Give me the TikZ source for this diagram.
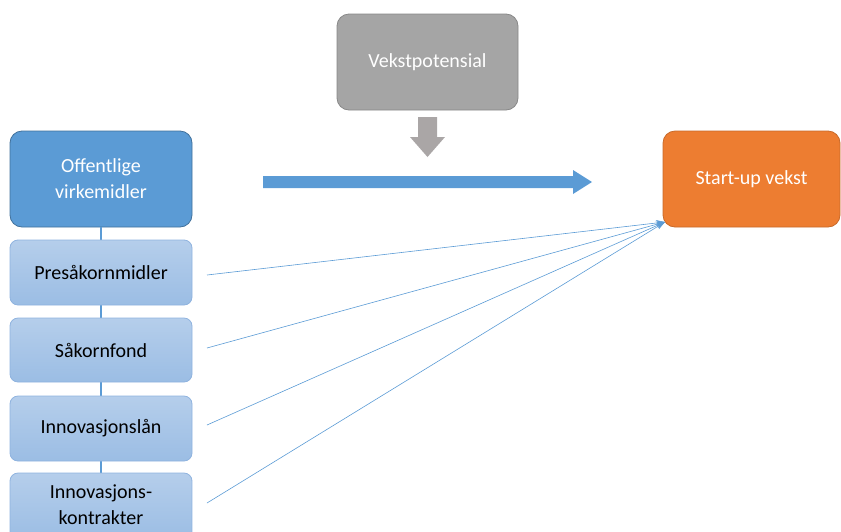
\documentclass[tikz,border=0pt]{standalone}
\usepackage{fontspec}
\setmainfont{Carlito}
\usetikzlibrary{arrows.meta,shapes.arrows}
\definecolor{dblue}{HTML}{5B9BD5}
\definecolor{dblueb}{HTML}{41719C}
\definecolor{lbtop}{HTML}{B5CEEB}
\definecolor{lbbot}{HTML}{9BBDE4}
\definecolor{lbb}{HTML}{8FB3DF}
\definecolor{grayf}{HTML}{A5A5A5}
\definecolor{grayb}{HTML}{888888}
\definecolor{orangef}{HTML}{ED7D31}
\definecolor{orangeb}{HTML}{C86A2A}
\definecolor{arrgray}{HTML}{AAA6A6}
\begin{document}
\begin{tikzpicture}[x=1pt,y=-1pt,
  lbl/.style={font=\fontsize{20}{26}\selectfont,align=center},
  mainbox/.style={rounded corners=12pt,line width=0.8pt},
  subbox/.style={rounded corners=8pt,draw=lbb,line width=0.8pt,top color=lbtop,bottom color=lbbot},
  link/.style={draw=dblue,line width=2pt},
  thin/.style={draw=dblue,line width=0.6pt,-{Stealth[length=9pt,width=6pt]}}]
\useasboundingbox (0,0) rectangle (841,531);
% main boxes
\draw[mainbox,fill=dblue,draw=dblueb] (10,131) rectangle (192,227);
\node[lbl,text=white] (off) at (101,179) {Offentlige\\virkemidler};
\coordinate (offS) at (101,227);
\draw[mainbox,fill=grayf,draw=grayb] (337,14) rectangle (518,110);
\node[lbl,text=white] (vek) at (427.5,62) {Vekstpotensial};
\draw[mainbox,fill=orangef,draw=orangeb] (663,131) rectangle (840,227);
\node[lbl,text=white] (start) at (751.5,179) {Start-up vekst};
\coordinate (tgt) at (665,222);
% vertical links (drawn first, under boxes)
\coordinate (pT) at (101,240); \coordinate (pB) at (101,305);
\coordinate (sT) at (101,318); \coordinate (sB) at (101,382);
\coordinate (iT) at (101,396); \coordinate (iB) at (101,461);
\coordinate (kT) at (101,473);
\draw[link] (offS) -- (pT);
\draw[link] (pB) -- (sT);
\draw[link] (sB) -- (iT);
\draw[link] (iB) -- (kT);
% sub boxes
\draw[subbox] (10,240) rectangle (192,305);
\node[lbl] (p) at (101,272.5) {Presåkornmidler};
\draw[subbox] (10,318) rectangle (192,382);
\node[lbl] (s) at (101,350) {Såkornfond};
\draw[subbox] (10,396) rectangle (192,461);
\node[lbl] (i) at (101,428.5) {Innovasjonslån};
\draw[subbox] (10,473) rectangle (192,540);
\node[lbl] (k) at (101,505) {Innovasjons-\\kontrakter};
% thin arrows
\coordinate (pe) at (207,275);
\coordinate (se) at (207,348);
\coordinate (ie) at (207,425);
\coordinate (ke) at (207,503);
\foreach \c in {pe,se,ie,ke}{\draw[thin] (\c) -- (tgt);}
% big blue arrow
\fill[dblue] (263,176) -- (573,176) -- (573,170) -- (592,182) -- (573,194) -- (573,188) -- (263,188) -- cycle;
% gray down arrow
\fill[arrgray] (418,117) -- (437,117) -- (437,137) -- (445,137) -- (427.5,157) -- (410,137) -- (418,137) -- cycle;
\end{tikzpicture}
\end{document}
